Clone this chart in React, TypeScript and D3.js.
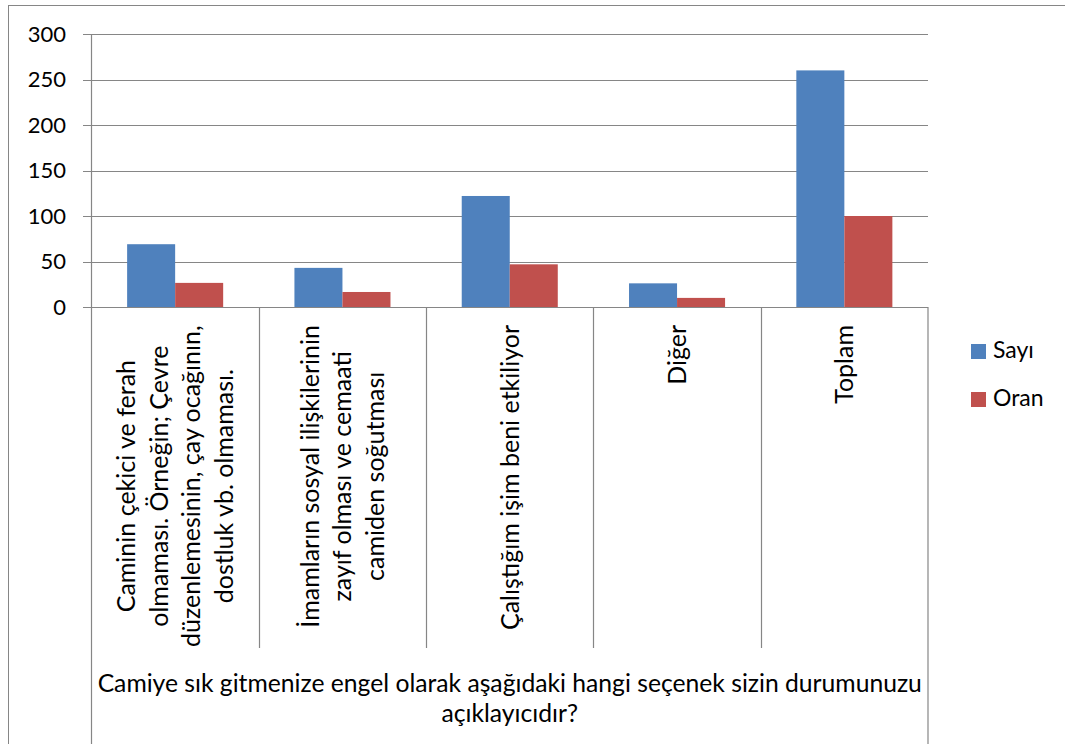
import React from "react";
import * as d3 from "d3";

const categories: string[][] = [
  ["Caminin çekici ve ferah", "olmaması. Örneğin; Çevre", "düzenlemesinin, çay ocağının,", "dostluk vb. olmaması."],
  ["İmamların sosyal ilişkilerinin", "zayıf olması ve cemaati", "camiden soğutması"],
  ["Çalıştığım işim beni etkiliyor"],
  ["Diğer"],
  ["Toplam"],
];
const seriesNames = ["Sayı", "Oran"];
const sayi = [69, 43, 122, 26, 260];
const oran = [26.5, 16.5, 46.9, 10, 100];
const yTicks = [0, 50, 100, 150, 200, 250, 300];
const axisTitle = ["Camiye sık gitmenize engel olarak aşağıdaki hangi seçenek sizin durumunuzu", "açıklayıcıdır?"];
const colors = ["#4F81BD", "#C0504D"];

const FONT = "Lato, 'Open Sans', sans-serif";
const FS_NUM = 22;
const FS_CAT = 25;
const FS_TITLE = 24.7;
const FS_LEG = 23;

function measure(text: string, size: number): number {
  if (typeof document === "undefined") return text.length * size * 0.5;
  const c = document.createElement("canvas");
  const ctx = c.getContext("2d")!;
  ctx.font = `${size}px Lato`;
  return ctx.measureText(text).width;
}

export default function App() {
  const W = 1065, H = 744;
  const left = 91.5, right = 928, top = 34, bottom = 307;
  const x = d3.scaleBand<number>().domain(d3.range(categories.length)).range([left, right]).paddingInner(0).paddingOuter(0);
  const inner = d3.scaleBand<string>().domain(seriesNames).range([0, x.bandwidth()]).paddingInner(0).paddingOuter(0.742);
  const y = d3.scaleLinear().domain([0, 300]).range([bottom, top]);
  const values = [sayi, oran];
  const gridColor = "#868686";
  const lineH = 32.5;
  const labelTop = 325;
  const sepBottom = 648;

  return (
    <svg width={W} height={H} style={{ display: "block", position: "absolute", left: 0, top: 0 }} fontFamily={FONT}>
      <rect x={0} y={0} width={W} height={H} fill="#fff" />
      <rect x={8.5} y={5.5} width={1200} height={900} fill="none" stroke={gridColor} strokeWidth={1} />
      {yTicks.map((t) => (
        <g key={t}>
          <line x1={83} x2={right} y1={Math.round(y(t)) + 0.5} y2={Math.round(y(t)) + 0.5} stroke={gridColor} strokeWidth={1.2} />
          <text x={66} y={y(t)} dy="0.36em" textAnchor="end" fontSize={FS_NUM} fill="#000">{t}</text>
        </g>
      ))}
      <line x1={left} x2={left} y1={top} y2={H} stroke={gridColor} strokeWidth={1.2} />
      <line x1={right} x2={right} y1={bottom} y2={H} stroke={gridColor} strokeWidth={1.2} />
      {categories.slice(1).map((_, i) => {
        const xx = Math.round(x(i + 1)!) + 0.5;
        return <line key={i} x1={xx} x2={xx} y1={bottom} y2={sepBottom} stroke={gridColor} strokeWidth={1.2} />;
      })}
      {values.map((vals, s) =>
        vals.map((v, i) => (
          <rect key={`${s}-${i}`} x={x(i)! + inner(seriesNames[s])!} y={y(v)} width={inner.bandwidth()} height={y(0) - y(v)} fill={colors[s]} />
        ))
      )}
      {categories.map((lines, i) => {
        const cx = x(i)! + x.bandwidth() / 2;
        const maxW = Math.max(...lines.map((l) => measure(l, FS_CAT)));
        const cy = labelTop + maxW / 2;
        return (
          <g key={i}>
            {lines.map((l, j) => {
              const bx = cx + (j - (lines.length - 1) / 2) * lineH + 9;
              return (
                <text key={j} transform={`translate(${bx},${cy}) rotate(-90)`} textAnchor="middle" fontSize={FS_CAT} fill="#000">{l}</text>
              );
            })}
          </g>
        );
      })}
      {axisTitle.map((t, i) => (
        <text key={i} x={(left + right) / 2} y={692 + i * 30} textAnchor="middle" fontSize={FS_TITLE} fill="#000">{t}</text>
      ))}
      {seriesNames.map((n, i) => (
        <g key={n}>
          <rect x={971} y={344 + i * 48} width={15} height={15} fill={colors[i]} />
          <text x={993} y={358 + i * 48} fontSize={FS_LEG} fill="#000">{n}</text>
        </g>
      ))}
    </svg>
  );
}
